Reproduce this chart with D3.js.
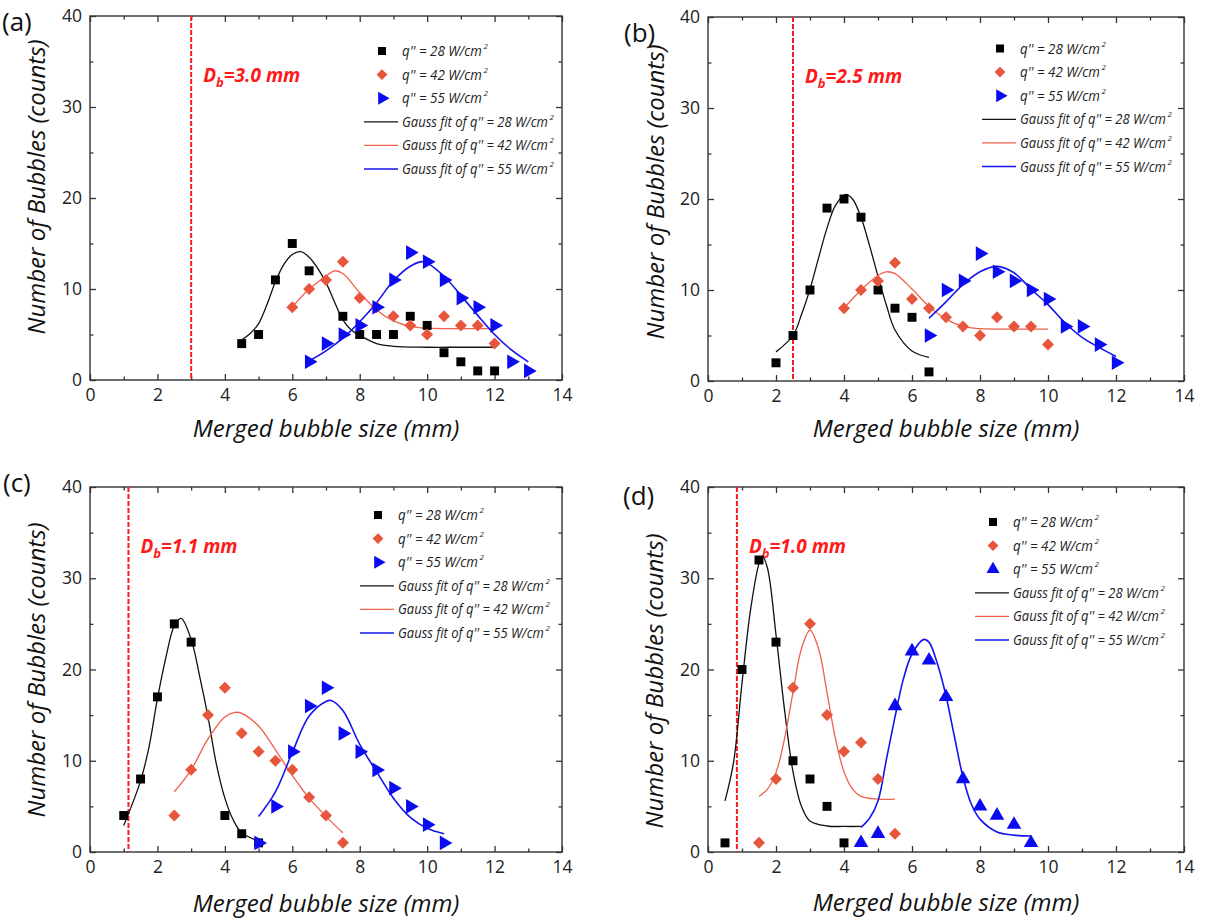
<!DOCTYPE html>
<html>
<head>
<meta charset="utf-8">
<script src="https://cdn.jsdelivr.net/npm/d3@7"></script>
<style>
  body { margin: 0; background: #fff; }
  svg { display: block; }
  text { font-family: "Open Sans", "DejaVu Sans", sans-serif; }
</style>
</head>
<body>
<svg id="chart" width="1225" height="921"></svg>
<script>
// axis ticks
const xTicks = [0, 2, 4, 6, 8, 10, 12, 14];
const xMinor = [1, 3, 5, 7, 9, 11, 13];
const yTicks = [0, 10, 20, 30, 40];
const yMinor = [5, 15, 25, 35];

const fluxes = [28, 42, 55];
const panelNames = ["(a)", "(b)", "(c)", "(d)"];
const dbX = [3.0, 2.5, 1.14, 0.85];
const dbText = ["3.0", "2.5", "1.1", "1.0"];

// measured counts [size mm, count]
const a28 = [[4.5,4],[5,5],[5.5,11],[6,15],[6.5,12],[7.5,7],[8,5],[8.5,5],[9,5],[9.5,7],[10,6],[10.5,3],[11,2],[11.5,1],[12,1]];
const a42 = [[6,8],[6.5,10],[7,11],[7.5,13],[8,9],[8.5,8],[9,7],[9.5,6],[10,5],[10.5,7],[11,6],[11.5,6],[12,4]];
const a55 = [[6.5,2],[7,4],[7.5,5],[8,6],[8.5,8],[9,11],[9.5,14],[10,13],[10.5,11],[11,9],[11.5,8],[12,6],[12.5,2],[13,1]];

const b28 = [[2,2],[2.5,5],[3,10],[3.5,19],[4,20],[4.5,18],[5,10],[5.5,8],[6,7],[6.5,1]];
const b42 = [[4,8],[4.5,10],[5,11],[5.5,13],[6,9],[6.5,8],[7,7],[7.5,6],[8,5],[8.5,7],[9,6],[9.5,6],[10,4]];
const b55 = [[6.5,5],[7,10],[7.5,11],[8,14],[8.5,12],[9,11],[9.5,10],[10,9],[10.5,6],[11,6],[11.5,4],[12,2]];

const c28 = [[1,4],[1.5,8],[2,17],[2.5,25],[3,23],[4,4],[4.5,2],[5,1]];
const c42 = [[2.5,4],[3,9],[3.5,15],[4,18],[4.5,13],[5,11],[5.5,10],[6,9],[6.5,6],[7,4],[7.5,1]];
const c55 = [[5,1],[5.5,5],[6,11],[6.5,16],[7,18],[7.5,13],[8,11],[8.5,9],[9,7],[9.5,5],[10,3],[10.5,1]];

const d28 = [[0.5,1],[1,20],[1.5,32],[2,23],[2.5,10],[3,8],[3.5,5],[4,1]];
const d42 = [[1.5,1],[2,8],[2.5,18],[3,25],[3.5,15],[4,11],[4.5,12],[5,8],[5.5,2]];
const d55 = [[4.5,1],[5,2],[5.5,16],[6,22],[6.5,21],[7,17],[7.5,8],[8,5],[8.5,4],[9,3],[9.5,1]];

// Gauss fit curves
const a28fit = [[4.5,4.4],[4.75,5.1],[5,6.2],[5.25,8.3],[5.5,10.8],[5.75,12.7],[6,13.8],[6.25,14.1],[6.5,13.5],[6.75,12.3],[7,10.7],[7.25,8.6],[7.5,6.6],[7.75,5.5],[8,4.9],[8.5,4.0],[9,3.7],[10,3.6],[11,3.6],[12,3.6]];
const a42fit = [[6,8],[6.5,10],[7,11.4],[7.25,12.0],[7.5,11.7],[8,9.6],[8.5,7.7],[9,6.5],[9.5,5.9],[10,5.7],[11,5.65],[12,5.65]];
const a55fit = [[6.5,2.1],[7,3.2],[7.5,4.6],[8,6.4],[8.5,8.5],[9,10.9],[9.5,12.5],[9.9,13.0],[10.5,11.4],[11,9.3],[11.5,7.1],[12,5.0],[12.5,3.3],[13,2.0]];

const b28fit = [[2,3.2],[2.5,5.0],[2.75,7.3],[3,10.1],[3.25,13.5],[3.5,16.8],[3.75,19.3],[4.05,20.5],[4.25,20.0],[4.5,18.0],[4.75,14.9],[5,11.5],[5.25,8.3],[5.5,5.6],[6,3.3],[6.5,2.6]];
const b42fit = [[4,8],[4.5,10],[5,11.6],[5.25,12],[5.5,11.8],[6,10.1],[6.5,8.2],[7,6.8],[7.5,6.0],[8,5.75],[9,5.7],[10,5.7]];
const b55fit = [[6.5,6.9],[7,8.7],[7.5,10.6],[8,12.0],[8.5,12.6],[9,11.9],[9.5,10.1],[10,8.4],[10.5,6.4],[11,4.8],[11.5,3.7],[12,2.7]];

const c28fit = [[1,2.9],[1.5,7.8],[1.75,11.5],[2,16.8],[2.25,21.3],[2.5,24.8],[2.7,25.6],[3,23.3],[3.25,19.3],[3.5,14.8],[3.75,9.6],[4,5.9],[4.25,3.5],[4.5,2.1],[5,1.2]];
const c42fit = [[2.5,6.6],[3,9.0],[3.5,12.4],[4,14.8],[4.3,15.3],[4.5,15.2],[5,13.8],[5.5,11.2],[6,8.4],[6.5,5.9],[7,3.9],[7.5,2.1]];
const c55fit = [[5,3.9],[5.5,6.6],[6,10.9],[6.5,14.9],[7,16.5],[7.15,16.6],[7.5,15.5],[8,11.8],[8.5,8.8],[9,5.9],[9.5,3.8],[10,2.6],[10.5,2.0]];

const d28fit = [[0.5,5.6],[0.75,9.8],[1,18.5],[1.25,26.5],[1.5,31.6],[1.6,32.4],[1.75,31.1],[2,23.8],[2.25,15.6],[2.5,8.8],[2.75,5.0],[3,3.4],[3.5,2.85],[4,2.8],[4.5,2.8]];
const d42fit = [[1.5,6.1],[1.75,6.9],[2,8.7],[2.25,12.4],[2.5,17.5],[2.75,22.3],[3,24.3],[3.25,22.3],[3.5,17.5],[3.75,12.4],[4,8.8],[4.25,6.9],[4.5,6.1],[5,5.8],[5.5,5.8]];
const d55fit = [[4.5,2.7],[4.75,3.7],[5,5.6],[5.25,10.2],[5.5,14.8],[5.75,19.0],[6,21.7],[6.35,23.3],[6.5,23.0],[6.75,20.6],[7,17.1],[7.25,12.6],[7.5,8.2],[7.75,5.2],[8,3.6],[8.5,2.2],[9,1.85],[9.5,1.75]];

const colors = ["#000000", "#e8553d", "#0b0bf2"];
const fitColors = ["#111111", "#f0604a", "#1414ee"];

const panels = [
  { box: [90, 16, 562, 380], pts: [a28, a42, a55], fits: [a28fit, a42fit, a55fit], tri: "right",
    leg: [382, 51], name: [2, 31], yt: [45, 187], xt: 437 },
  { box: [708, 17, 1184, 381], pts: [b28, b42, b55], fits: [b28fit, b42fit, b55fit], tri: "right",
    leg: [1000, 48.5], name: [624, 42], yt: [664, 192], xt: 437 },
  { box: [90, 487, 562, 852], pts: [c28, c42, c55], fits: [c28fit, c42fit, c55fit], tri: "right",
    leg: [378, 515], name: [3, 492], yt: [45, 670], xt: 912 },
  { box: [708, 487, 1184, 852], pts: [d28, d42, d55], fits: [d28fit, d42fit, d55fit], tri: "up",
    leg: [993, 522], name: [623, 505], yt: [663, 681], xt: 911 }
];

const svg = d3.select("#chart");

function symbolPath(i, tri) {
  if (i === 0) return { d: d3.symbol(d3.symbolSquare, 80)(), rot: 0 };
  if (i === 1) return { d: d3.symbol(d3.symbolSquare, 72)(), rot: 45 };
  return { d: d3.symbol(d3.symbolTriangle, 92)(), rot: tri === "right" ? 90 : 0 };
}

function styleAxis(g) {
  g.select(".domain").remove();
  g.selectAll(".tick line").attr("stroke", "#333").attr("stroke-width", 1.3);
  g.selectAll(".tick text").attr("fill", "#222").style("font-size", "17.5px")
    .style("font-family", "'Open Sans', sans-serif");
}

// legend label: main text squeezed horizontally to width w, then a small raised "2"
function legendLabel(g, x, y, str, w) {
  const t = g.append("text").attr("x", 0).attr("y", 0)
    .style("font-style", "italic").style("font-size", "14.5px").attr("fill", "#222").text(str);
  const sx = w / t.node().getComputedTextLength();
  t.attr("transform", `translate(${x},${y}) scale(${sx},1)`);
  g.append("text").attr("x", x + w + 1.5).attr("y", y - 7)
    .style("font-style", "italic").style("font-size", "8px").attr("fill", "#222").text("2");
}

panels.forEach((p, pi) => {
  const [x0, y0, x1, y1] = p.box;
  const x = d3.scaleLinear().domain([0, 14]).range([x0, x1]);
  const y = d3.scaleLinear().domain([0, 40]).range([y1, y0]);
  const g = svg.append("g");

  // ticks on all four sides, pointing inward
  g.append("g").attr("transform", `translate(0,${y1})`)
    .call(d3.axisBottom(x).tickValues(xTicks).tickSize(-6).tickPadding(9)).call(styleAxis);
  g.append("g").attr("transform", `translate(0,${y1})`)
    .call(d3.axisBottom(x).tickValues(xMinor).tickSize(-3.5).tickFormat("")).call(styleAxis);
  g.append("g").attr("transform", `translate(0,${y0})`)
    .call(d3.axisTop(x).tickValues(xTicks).tickSize(-6).tickFormat("")).call(styleAxis);
  g.append("g").attr("transform", `translate(0,${y0})`)
    .call(d3.axisTop(x).tickValues(xMinor).tickSize(-3.5).tickFormat("")).call(styleAxis);
  g.append("g").attr("transform", `translate(${x0},0)`)
    .call(d3.axisLeft(y).tickValues(yTicks).tickSize(-6).tickPadding(8)).call(styleAxis);
  g.append("g").attr("transform", `translate(${x0},0)`)
    .call(d3.axisLeft(y).tickValues(yMinor).tickSize(-3.5).tickFormat("")).call(styleAxis);
  g.append("g").attr("transform", `translate(${x1},0)`)
    .call(d3.axisRight(y).tickValues(yTicks).tickSize(-6).tickFormat("")).call(styleAxis);
  g.append("g").attr("transform", `translate(${x1},0)`)
    .call(d3.axisRight(y).tickValues(yMinor).tickSize(-3.5).tickFormat("")).call(styleAxis);

  g.append("rect")
    .attr("x", x0).attr("y", y0).attr("width", x1 - x0).attr("height", y1 - y0)
    .attr("fill", "none").attr("stroke", "#333").attr("stroke-width", 1.4);

  // departure diameter marker
  g.append("line")
    .attr("x1", x(dbX[pi])).attr("x2", x(dbX[pi]))
    .attr("y1", y(40)).attr("y2", y(0))
    .attr("stroke", "#ff1a1a").attr("stroke-width", 2).attr("stroke-dasharray", "5,2");

  const db = g.append("text")
    .attr("x", x(dbX[pi]) + 12).attr("y", y0 + 66)
    .attr("fill", "#ff1a1a").style("font-weight", "bold").style("font-style", "italic")
    .style("font-size", "19px");
  db.append("tspan").text("D");
  db.append("tspan").attr("dy", 5).style("font-size", "13px").text("b");
  db.append("tspan").attr("dy", -5).text(`=${dbText[pi]} mm`);

  // fits
  const line = d3.line().x(d => x(d[0])).y(d => y(d[1])).curve(d3.curveCatmullRom.alpha(0.5));
  p.fits.forEach((f, i) => {
    g.append("path").attr("d", line(f)).attr("fill", "none")
      .attr("stroke", fitColors[i]).attr("stroke-width", i === 2 ? 1.6 : 1.3);
  });

  // points
  p.pts.forEach((s, i) => {
    const sym = symbolPath(i, p.tri);
    g.selectAll(null).data(s).join("path")
      .attr("d", sym.d)
      .attr("transform", d => `translate(${x(d[0])},${y(d[1])}) rotate(${sym.rot})`)
      .attr("fill", colors[i]);
  });

  // legend
  const [lx, ly] = p.leg;
  const step = 23.6;
  fluxes.forEach((q, i) => {
    const sym = symbolPath(i, p.tri);
    const cy = ly + i * step;
    g.append("path").attr("d", sym.d)
      .attr("transform", `translate(${lx},${cy}) rotate(${sym.rot}) scale(0.9)`)
      .attr("fill", colors[i]);
    legendLabel(g, lx + 20, cy + 5, `q'' = ${q} W/cm`, 80);
  });
  fluxes.forEach((q, i) => {
    const cy = ly + (i + 3) * step;
    g.append("line").attr("x1", lx - 18).attr("x2", lx + 16).attr("y1", cy).attr("y2", cy)
      .attr("stroke", fitColors[i]).attr("stroke-width", i === 2 ? 1.6 : 1.3);
    legendLabel(g, lx + 20, cy + 5, `Gauss fit of q'' = ${q} W/cm`, 146);
  });

  // titles
  g.append("text")
    .attr("x", (x0 + x1) / 2).attr("y", p.xt)
    .attr("text-anchor", "middle").style("font-style", "italic").style("font-size", "24px")
    .attr("fill", "#111").text("Merged bubble size (mm)");

  g.append("text")
    .attr("transform", `translate(${p.yt[0]},${p.yt[1]}) rotate(-90)`)
    .attr("text-anchor", "middle").style("font-style", "italic").style("font-size", "24px")
    .attr("fill", "#111").text("Number of Bubbles (counts)");

  g.append("text")
    .attr("x", p.name[0]).attr("y", p.name[1])
    .style("font-size", "26px").attr("fill", "#111").text(panelNames[pi]);
});
</script>
</body>
</html>
